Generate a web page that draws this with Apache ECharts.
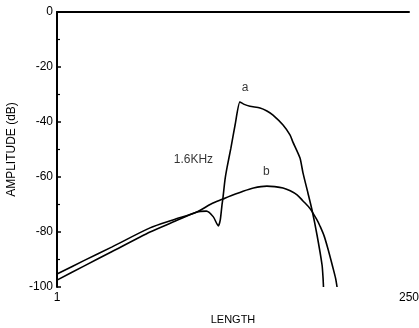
<!DOCTYPE html>
<html><head><meta charset="utf-8">
<script src="https://cdn.jsdelivr.net/npm/echarts@6/dist/echarts.min.js"></script>
<style>html,body{margin:0;padding:0;background:#fff}#c{width:419px;height:328px}</style>
</head><body><div id="c"></div>
<script>
const lengthA = [1, 20, 40, 66.8, 83, 100, 106.7, 111.6, 115.1, 116.5, 117.7, 118.4, 119.8, 121.3, 124, 127, 130.4, 133, 137.5, 144.6, 149.5, 153.8, 160.9, 165.8, 167.9, 172.9, 175, 178.5, 181.4, 184.9, 188.5, 189.2, 189.5];
const ampA = [-97.5, -92.4, -87.1, -80, -76.4, -72.7, -72.4, -74.5, -77.8, -75.6, -70.2, -67.6, -61.1, -56.5, -49.5, -41, -32.7, -33.5, -34.3, -34.9, -36, -37.5, -41.1, -44.7, -47.3, -53.1, -58.5, -65.8, -72, -81, -92, -96.7, -100];
const lengthB = [1, 20, 40, 66.8, 83, 100, 110, 118.4, 124, 130.4, 140, 149.5, 155, 160.9, 166, 170.8, 175, 180, 184.9, 187, 190, 192.7, 196.2, 198, 199.1];
const ampB = [-95.3, -90.4, -85.4, -78.5, -75.6, -72.7, -69.8, -68, -66.8, -65.6, -64, -63.3, -63.5, -64, -65, -66.5, -68.7, -71.5, -75.6, -77.8, -81.5, -86.2, -93, -96.7, -100];
const xTicks = [1, 250];
const yTicks = [0, -20, -40, -60, -80, -100];
const labelA = {text: 'a', x: 134, y: -27.5};
const labelB = {text: 'b', x: 149, y: -58};
const labelF = {text: '1.6KHz', x: 97.5, y: -53.8};

const font = '"Liberation Sans Narrow", "Liberation Sans", Arial, sans-serif';
const chart = echarts.init(document.getElementById('c'), null, {renderer: 'canvas'});
const zip = (xs, ys) => xs.map((x, i) => [x, ys[i]]);
const lineStyle = {color: '#000', width: 1.6};
chart.setOption({
  animation: false,
  backgroundColor: '#fff',
  grid: {left: 57, right: 10, top: 12, bottom: 41, outerBoundsMode: 'none', containLabel: false},
  xAxis: {
    type: 'value', min: 1, max: 250,
    name: 'LENGTH', nameLocation: 'middle', nameGap: 27,
    nameTextStyle: {color: '#000', fontSize: 11, fontFamily: font},
    axisLine: {lineStyle: {color: '#000', width: 2}},
    axisTick: {show: false},
    splitLine: {show: false},
    axisLabel: {customValues: xTicks, color: '#000', fontSize: 12, fontFamily: font, margin: 5}
  },
  yAxis: {
    type: 'value', min: -100, max: 0, interval: 20,
    name: 'AMPLITUDE (dB)', nameLocation: 'middle', nameGap: 38, nameRotate: 90,
    nameTextStyle: {color: '#000', fontSize: 12, fontFamily: font},
    axisLine: {show: true, lineStyle: {color: '#000', width: 2}},
    axisTick: {show: true, inside: true, length: 4, lineStyle: {color: '#000', width: 1.5}},
    minorTick: {show: true, splitNumber: 2, length: 3, lineStyle: {color: '#000', width: 1.2}},
    splitLine: {show: false},
    axisLabel: {color: '#000', fontSize: 12, fontFamily: font, margin: 4,
      formatter: v => yTicks.includes(v) ? String(v) : ''}
  },
  series: [
    {type: 'line', data: zip(lengthA, ampA), showSymbol: false, smooth: 0.2, lineStyle: lineStyle, z: 3},
    {type: 'line', data: zip(lengthB, ampB), showSymbol: false, smooth: 0.3, lineStyle: lineStyle, z: 3},
    {type: 'scatter', symbolSize: 0, silent: true,
      data: [labelA, labelB, labelF].map(l => ({value: [l.x, l.y], name: l.text})),
      label: {show: true, position: 'inside', formatter: p => p.name, color: '#000', fontSize: 12, fontFamily: font}}
  ]
});
</script></body></html>
